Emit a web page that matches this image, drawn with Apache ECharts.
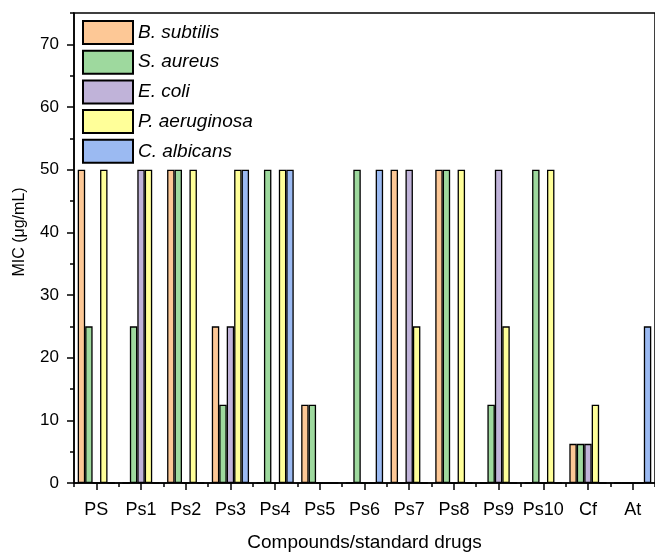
<!DOCTYPE html>
<html>
<head>
<meta charset="utf-8">
<script src="https://cdn.jsdelivr.net/npm/echarts@6/dist/echarts.min.js"></script>
<style>
  html, body { margin: 0; padding: 0; background: #fff; }
  #chart { width: 655px; height: 553px; }
</style>
</head>
<body>
<div id="chart"></div>
<script>
const categories = ['PS', 'Ps1', 'Ps2', 'Ps3', 'Ps4', 'Ps5', 'Ps6', 'Ps7', 'Ps8', 'Ps9', 'Ps10', 'Cf', 'At'];
const seriesNames = ['B. subtilis', 'S. aureus', 'E. coli', 'P. aeruginosa', 'C. albicans'];
const bSubtilis    = [50, 0, 50, 25, 0, 12.5, 0, 50, 50, 0, 0, 6.25, 0];
const sAureus      = [25, 25, 50, 12.5, 50, 12.5, 50, 0, 50, 12.5, 50, 6.25, 0];
const eColi        = [0, 50, 0, 25, 0, 0, 0, 50, 0, 50, 0, 6.25, 0];
const pAeruginosa  = [50, 50, 50, 50, 50, 0, 0, 25, 50, 25, 50, 12.5, 0];
const cAlbicans    = [0, 0, 0, 50, 50, 0, 50, 0, 0, 0, 0, 0, 25];
const yMajorTicks  = [0, 10, 20, 30, 40, 50, 60, 70];
const colors = ['#FDC896', '#9ED99E', '#C0B3D9', '#FFFF99', '#9BBAF2'];

const seriesData = [bSubtilis, sAureus, eColi, pAeruginosa, cAlbicans];
const font = 'Liberation Sans, Arial, Helvetica, sans-serif';

const chart = echarts.init(document.getElementById('chart'), null, { renderer: 'canvas' });
chart.setOption({
  animation: false,
  backgroundColor: '#ffffff',
  grid: {
    left: 74, right: 0, top: 13, bottom: 70,
    outerBoundsMode: 'none', containLabel: false,
    show: true, borderColor: '#000', borderWidth: 1.5, backgroundColor: 'transparent'
  },
  legend: {
    orient: 'vertical',
    left: 82, top: 20, padding: 0,
    itemWidth: 50, itemHeight: 23, itemGap: 4.7,
    icon: 'rect',
    data: seriesNames,
    textStyle: { fontFamily: font, fontSize: 19, fontStyle: 'italic', color: '#000' }
  },
  xAxis: [
    {
      type: 'category', data: categories, position: 'bottom',
      axisLine: { show: true, lineStyle: { color: '#000', width: 1.5 } },
      axisTick: { show: true, alignWithLabel: true, length: 7, lineStyle: { color: '#000', width: 1.5 } },
      axisLabel: { interval: 0, margin: 18, fontFamily: font, fontSize: 18, color: '#000' },
      name: 'Compounds/standard drugs', nameLocation: 'middle', nameGap: 50,
      nameTextStyle: { fontFamily: font, fontSize: 19, color: '#000' },
      splitLine: { show: false }
    },
    {
      type: 'category', data: categories, position: 'bottom',
      axisLine: { show: false },
      axisTick: { show: true, interval: 0, length: 4, lineStyle: { color: '#000', width: 1.5 } },
      axisLabel: { show: false, interval: 0 },
      splitLine: { show: false }
    }
  ],
  yAxis: [
    {
      type: 'value', min: 0, max: 75, interval: 5, position: 'left',
      axisLine: { show: true, lineStyle: { color: '#000', width: 1.5 } },
      axisTick: { show: true, length: 4, lineStyle: { color: '#000', width: 1.5 } },
      axisLabel: {
        margin: 15, fontFamily: font, fontSize: 17, color: '#000',
        formatter: v => (yMajorTicks.indexOf(v) >= 0 ? String(v) : '')
      },
      splitLine: { show: false },
      name: 'MIC (μg/mL)', nameLocation: 'middle', nameGap: 46,
      nameTextStyle: { fontFamily: font, fontSize: 16, color: '#000', padding: [0, 0, 0, 32] }
    },
    {
      type: 'value', min: 0, max: 75, position: 'left',
      axisLine: { show: false },
      axisTick: { show: true, length: 7, customValues: yMajorTicks, lineStyle: { color: '#000', width: 1.5 } },
      axisLabel: { show: false, customValues: yMajorTicks },
      splitLine: { show: false }
    }
  ],
  series: seriesNames.map((name, i) => ({
    name: name,
    type: 'bar',
    data: seriesData[i],
    barGap: '0%',
    barCategoryGap: '16.67%',
    itemStyle: { color: colors[i], borderColor: '#000', borderWidth: 1.3 }
  }))
});
</script>
</body>
</html>
